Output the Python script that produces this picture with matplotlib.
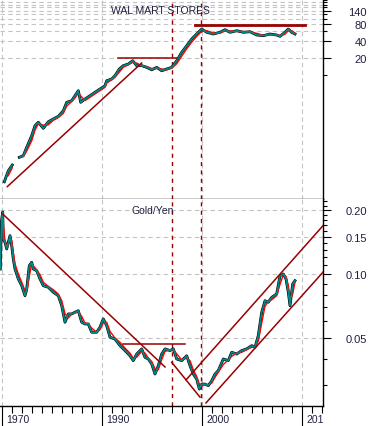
import matplotlib
matplotlib.use('Agg')
import matplotlib.pyplot as plt
import pandas as pd
from matplotlib.ticker import FixedLocator, FixedFormatter, NullFormatter
from matplotlib.transforms import ScaledTranslation, Bbox, TransformedBbox, blended_transform_factory

plt.rcParams['font.family'] = ['Liberation Sans', 'DejaVu Sans']

# Wal-Mart price (log scale), NaN marks the gap in the series
wmt_years = [1980.23, 1980.63, 1981.03, 1981.4, 1981.73, 1982.13, 1982.47, 1982.97, 1983.3, 1983.63,
             1984.13, 1984.63, 1985.13, 1985.63, 1986.13, 1986.47, 1986.97, 1987.3, 1987.63, 1987.87,
             1988.3, 1988.8, 1989.3, 1989.8, 1990.3, 1990.47, 1990.97, 1991.3, 1991.73, 1992.13,
             1992.63, 1993.07, 1993.47, 1993.97, 1994.47, 1994.97, 1995.47, 1995.97, 1996.47, 1996.97,
             1997.47, 1997.97, 1998.47, 1998.97, 1999.47, 1999.97, 2000.47, 2001.13, 2001.8, 2002.3,
             2002.8, 2003.47, 2004.13, 2004.8, 2005.47, 2006.13, 2006.8, 2007.47, 2007.8, 2008.3,
             2008.63, 2008.97, 2009.3]
wmt_price = [0.128, 0.201, 0.254, float('nan'), 0.348, 0.372, 0.524, 0.843, 1.27, 1.46,
             1.14, 1.49, 1.67, 1.86, 2.34, 3.30, 3.53, 4.33, 5.31, 3.30,
             3.78, 4.33, 4.97, 5.69, 6.51, 7.99, 8.57, 9.80, 12.9, 14.8,
             15.8, 18.1, 14.8, 14.8, 13.8, 12.5, 13.8, 12.0, 12.9, 13.8,
             18.1, 25.5, 33.4, 44.0, 54.0, 66.2, 57.9, 54.0, 57.9, 64.4,
             57.9, 61.8, 57.9, 59.3, 51.8, 50.4, 54.0, 51.8, 49.1, 57.9,
             66.2, 57.9, 54.0]

# Gold / Yen ratio (log scale)
gy_years = [1979.83, 1979.95, 1980.07, 1980.13, 1980.3, 1980.47, 1980.63, 1980.8, 1980.97, 1981.13,
            1981.3, 1981.63, 1981.97, 1982.3, 1982.47, 1982.73, 1982.97, 1983.13, 1983.47, 1983.8,
            1984.13, 1984.63, 1985.13, 1985.63, 1985.97, 1986.3, 1986.63, 1986.97, 1987.3, 1987.63,
            1987.97, 1988.3, 1988.63, 1988.97, 1989.47, 1989.8, 1990.13, 1990.47, 1990.8, 1991.3,
            1991.8, 1992.3, 1992.8, 1993.13, 1993.47, 1993.97, 1994.3, 1994.63, 1994.97, 1995.3,
            1995.63, 1995.97, 1996.3, 1996.8, 1997.13, 1997.47, 1997.97, 1998.47, 1998.8, 1999.13,
            1999.47, 1999.73, 1999.97, 2000.3, 2000.63, 2000.97, 2001.3, 2001.63, 2002.13, 2002.63,
            2002.97, 2003.47, 2003.97, 2004.47, 2004.97, 2005.3, 2005.63, 2005.97, 2006.3, 2006.63,
            2006.97, 2007.47, 2007.8, 2008.13, 2008.4, 2008.63, 2008.8, 2009.07, 2009.3]
gy_ratio = [0.1057, 0.1781, 0.1963, 0.1464, 0.1413, 0.1314, 0.1413, 0.1518, 0.1362, 0.1179,
            0.1057, 0.0949, 0.0882, 0.0791, 0.0851, 0.1096, 0.1137, 0.1057, 0.1038, 0.0949,
            0.0882, 0.0867, 0.0821, 0.0791, 0.0710, 0.0593, 0.0649, 0.0649, 0.0661, 0.0672,
            0.0593, 0.0582, 0.0582, 0.0532, 0.0532, 0.0562, 0.0615, 0.0571, 0.0504, 0.0494,
            0.0460, 0.0436, 0.0412, 0.0391, 0.0420, 0.0444, 0.0405, 0.0398, 0.0377, 0.0338,
            0.0370, 0.0420, 0.0444, 0.0436, 0.0444, 0.0398, 0.0391, 0.0412, 0.0370, 0.0338,
            0.0320, 0.0287, 0.0303, 0.0303, 0.0298, 0.0314, 0.0338, 0.0351, 0.0398, 0.0391,
            0.0428, 0.0420, 0.0436, 0.0444, 0.0460, 0.0452, 0.0513, 0.0661, 0.0749, 0.0737,
            0.0777, 0.0806, 0.0983, 0.1001, 0.0949, 0.0821, 0.0710, 0.0899, 0.0931]

# trend lines: (x0, x1), (y0, y1)
wmt_lines = [((1980.53, 1993.97), (0.105, 16.5)),
             ((1991.63, 1997.53), (20.0, 20.0))]
wmt_top_line = ((1999.3, 2010.3), (78.0, 78.0))
gy_lines = [((1980.07, 1996.3), (0.1921, 0.0365)),
            ((1996.97, 1999.8), (0.0384, 0.0263)),
            ((1998.4, 2012.5), (0.0317, 0.1776)),
            ((2000.4, 2012.5), (0.0247, 0.1072)),
            ((1992.13, 1998.3), (0.0469, 0.0469))]
event_years = [1997.0, 1999.85]

decade_ticks = [1980, 1990, 2000, 2010]
decade_labels = ['1970', '1990', '2000', '2010']
year_ticks = list(range(1980, 2013))

wmt_ticks = [20, 40, 80, 140]
wmt_minor = [10, 60, 100, 120, 160, 180, 200, 220]
wmt_grid = [20, 40, 60, 80, 100, 120, 140, 160, 180, 200]
gy_ticks = [0.05, 0.10, 0.15, 0.20]
gy_tick_labels = ['0.05', '0.10', '0.15', '0.20']
gy_minor = [0.03, 0.04, 0.06, 0.07, 0.08, 0.09, 0.11, 0.12, 0.13, 0.14,
            0.16, 0.17, 0.18, 0.19, 0.21, 0.22]

W, H = 371, 427
fig = plt.figure(figsize=(W / 100, H / 100), dpi=100)
right = 322.7 / W
ax1 = fig.add_axes([0, 1 - 200 / H, right, 200 / H])
ax2 = fig.add_axes([0, 1 - 407 / H, right, 207 / H])

DARK = '#990000'
GRID = '#c4c4c4'
TXT = '#202040'


def draw_series(ax, xs, ys):
    s = pd.Series(ys)
    ma = s.rolling(2).mean()
    ax.plot(xs, s, color='black', lw=2.0, zorder=3)
    ax.plot(xs, ma, color='red', lw=1.0, zorder=4)
    ax.plot(xs, s, color='#008b8b', lw=1.2, zorder=5)


for ax in (ax1, ax2):
    ax.set_yscale('log')
    ax.set_xlim(1979.8, 2012.07)
    for sp in ('left', 'top'):
        ax.spines[sp].set_visible(False)
    ax.spines['right'].set_linewidth(1.0)
    ax.spines['bottom'].set_linewidth(1.0)
    for x in decade_ticks:
        ax.axvline(x, color=GRID, lw=0.8, ls=(0, (4, 3)), zorder=1)
    for x in event_years:
        ax.axvline(x, color=DARK, lw=1.0, ls=(0, (3, 3)), zorder=2)
    ax.yaxis.tick_right()

# top panel
ax1.set_ylim(0.0633, 226)
for g in wmt_grid:
    ax1.axhline(g, color=GRID, lw=0.8, ls=(0, (4, 3)), zorder=1)
draw_series(ax1, wmt_years, wmt_price)
for xs, ys in wmt_lines:
    ax1.plot(xs, ys, color=DARK, lw=1.1, zorder=6)
ax1.plot(*wmt_top_line, color=DARK, lw=2.0, zorder=6)
ax1.yaxis.set_major_locator(FixedLocator(wmt_ticks))
ax1.yaxis.set_major_formatter(FixedFormatter([str(v) for v in wmt_ticks]))
ax1.yaxis.set_minor_locator(FixedLocator(wmt_minor))
ax1.yaxis.set_minor_formatter(NullFormatter())
ax1.set_xticks([])
ax1.text(0.497, 0.945, 'WAL MART STORES', transform=ax1.transAxes, ha='center', va='center',
         fontsize=7.5, color=TXT)

# bottom panel
ax2.set_ylim(0.02389, 0.2260)
for g in gy_ticks:
    ax2.axhline(g, color=GRID, lw=0.8, ls=(0, (4, 3)), zorder=1)
draw_series(ax2, gy_years, gy_ratio)
for xs, ys in gy_lines:
    ax2.plot(xs, ys, color=DARK, lw=1.1, zorder=6)
ax2.yaxis.set_major_locator(FixedLocator(gy_ticks))
ax2.yaxis.set_major_formatter(FixedFormatter(gy_tick_labels))
ax2.yaxis.set_minor_locator(FixedLocator(gy_minor))
ax2.yaxis.set_minor_formatter(NullFormatter())
ax2.set_xticks(decade_ticks)
ax2.set_xticks(year_ticks, minor=True)
ax2.tick_params(axis='x', which='major', length=14.4, width=0.8, labelbottom=False)
ax2.tick_params(axis='x', which='minor', length=5, width=0.8)
ax2.text(0.474, 0.947, 'Gold/Yen', transform=ax2.transAxes, ha='center', va='center',
         fontsize=7.5, color=TXT)

for ax in (ax1, ax2):
    ax.tick_params(axis='y', which='major', length=5.8, width=0.8, pad=26, labelsize=8,
                   labelcolor=TXT, right=True, left=False)
    ax.tick_params(axis='y', which='minor', length=2.9, width=0.8, right=True, left=False)
    for lbl in ax.get_yticklabels():
        lbl.set_horizontalalignment('right')

# decade labels under the axis, clipped at the right edge of the plot
clip = TransformedBbox(Bbox([[0, 0], [right, 1]]), fig.transFigure)
trans = blended_transform_factory(ax2.transData, ax2.transAxes) + \
    ScaledTranslation(4 / 100, -13 / 100, fig.dpi_scale_trans)
for x, lab in zip(decade_ticks, decade_labels):
    t = ax2.text(x, 0, lab, transform=trans, ha='left', va='center', fontsize=7.5, color=TXT)
    t.set_clip_box(clip)
    t.set_clip_on(True)

fig.savefig('out.png', dpi=100)
